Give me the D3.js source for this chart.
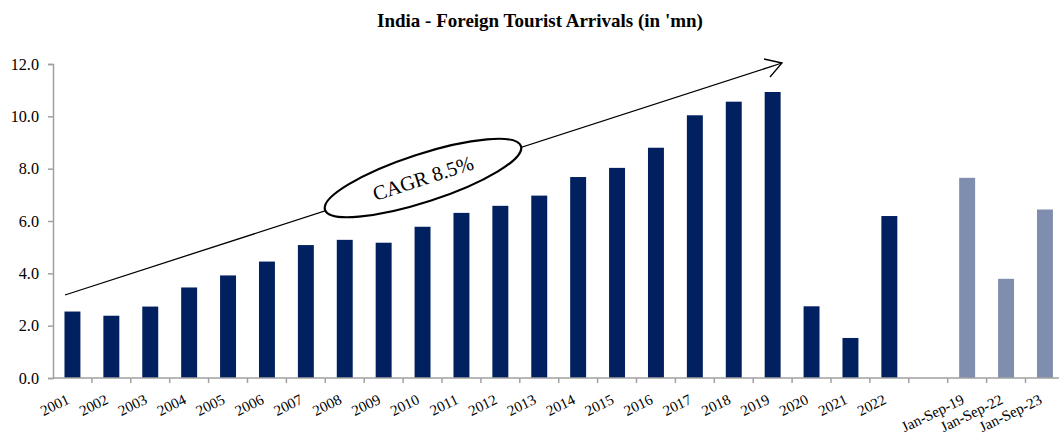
<!DOCTYPE html>
<html>
<head>
<meta charset="utf-8">
<script src="https://cdn.jsdelivr.net/npm/d3@7"></script>
<style>
  body { margin: 0; background: #fff; }
  text { font-family: "Liberation Serif", "Times New Roman", serif; }
</style>
</head>
<body>
<div id="chart"></div>
<script>
// annual arrivals, 'mn
var years = ["2001","2002","2003","2004","2005","2006","2007","2008","2009","2010","2011",
  "2012","2013","2014","2015","2016","2017","2018","2019","2020","2021","2022"];
var yearValues = [2.54, 2.38, 2.73, 3.46, 3.92, 4.45, 5.08, 5.28, 5.17, 5.78, 6.31,
  6.58, 6.97, 7.68, 8.03, 8.80, 10.04, 10.56, 10.93, 2.74, 1.53, 6.19];
// Jan-Sep periods
var ytdLabels = ["Jan-Sep-19", "Jan-Sep-22", "Jan-Sep-23"];
var ytdValues = [7.65, 3.79, 6.44];
var yTicks = [0, 2, 4, 6, 8, 10, 12];

var width = 1059, height = 437;
var svg = d3.select("#chart").append("svg").attr("width", width).attr("height", height);

var categories = years.concat([" "], ytdLabels);
var data = years.map((d, i) => ({ name: d, value: yearValues[i], ytd: false }))
  .concat(ytdLabels.map((d, i) => ({ name: d, value: ytdValues[i], ytd: true })));

var left = 53, step = 38.9;
var x = d3.scaleBand()
  .domain(categories)
  .range([left, left + step * categories.length])
  .paddingInner(0.59)
  .paddingOuter(0.295);
var xSlot = d3.scaleBand().domain(categories).range(x.range()).padding(0);

var y = d3.scaleLinear().domain([0, 12]).range([378, 64]);

// title
svg.append("text")
  .attr("x", 540).attr("y", 27)
  .attr("text-anchor", "middle")
  .attr("font-weight", "bold")
  .attr("font-size", 19)
  .text("India - Foreign Tourist Arrivals (in 'mn)");

// bars
svg.append("g").selectAll("rect").data(data).enter().append("rect")
  .attr("x", d => x(d.name))
  .attr("y", d => y(d.value))
  .attr("width", x.bandwidth())
  .attr("height", d => y(0) - y(d.value))
  .attr("fill", d => d.ytd ? "#7f8eaf" : "#00205f");

// y axis
var yAxis = svg.append("g")
  .attr("transform", `translate(${left},0)`)
  .call(d3.axisLeft(y).tickValues(yTicks).tickFormat(d3.format(".1f")).tickSize(5).tickPadding(9));
yAxis.selectAll("path, line").attr("stroke", "#a0a0a0").attr("stroke-width", 1.5);
yAxis.selectAll("text").attr("font-size", 16.2).attr("fill", "#000");

// x axis
var xAxis = svg.append("g")
  .attr("transform", `translate(0,${y(0)})`)
  .call(d3.axisBottom(x).tickSize(0).tickSizeOuter(0).tickPadding(0));
xAxis.select(".domain").attr("stroke", "#a0a0a0").attr("stroke-width", 1.5)
  .attr("d", `M${left},0H${width}`);
xAxis.selectAll(".tick text")
  .attr("font-size", 15).attr("fill", "#000")
  .attr("text-anchor", "end")
  .attr("dy", 0)
  .attr("transform", "translate(-2,25) rotate(-26)");
xAxis.append("g").selectAll("line").data(categories).enter().append("line")
  .attr("x1", d => xSlot(d) + xSlot.bandwidth())
  .attr("x2", d => xSlot(d) + xSlot.bandwidth())
  .attr("y1", 0).attr("y2", 5)
  .attr("stroke", "#a0a0a0").attr("stroke-width", 1.5);

// CAGR trend arrow
var arrow = svg.append("g").attr("fill", "none").attr("stroke", "#000").attr("stroke-width", 1.3);
arrow.append("line").attr("x1", 65).attr("y1", 295).attr("x2", 782).attr("y2", 63);
arrow.append("path").attr("d", "M764,59L782,63L770,77");

var badge = svg.append("g").attr("transform", "translate(423,178) rotate(-18)");
badge.append("ellipse")
  .attr("rx", 103).attr("ry", 24)
  .attr("fill", "#fff").attr("stroke", "#000").attr("stroke-width", 2.2);
badge.append("text")
  .attr("text-anchor", "middle").attr("dy", "0.35em")
  .attr("font-size", 20.5)
  .text("CAGR 8.5%");
</script>
</body>
</html>
